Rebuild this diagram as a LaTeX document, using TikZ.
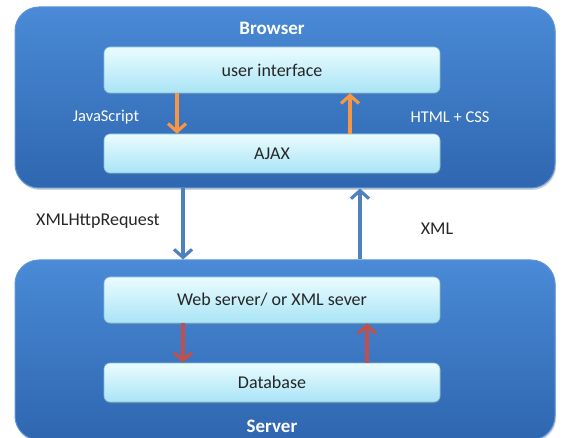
\documentclass[tikz,border=0pt]{standalone}
\usepackage{fontspec}
\setmainfont{Carlito}
\usetikzlibrary{arrows.meta,shadows}
\definecolor{outerTop}{HTML}{4A8AD6}
\definecolor{outerBot}{HTML}{2F66B0}
\definecolor{outerEdge}{HTML}{5B95DA}
\definecolor{innerTop}{HTML}{EAFCFF}
\definecolor{innerBot}{HTML}{A9E4F6}
\definecolor{innerEdge}{HTML}{7FBFE0}
\definecolor{jsOrange}{HTML}{F79646}
\definecolor{dbRed}{HTML}{C0504D}
\definecolor{netBlue}{HTML}{4F81BD}
\tikzset{
  x=1pt, y=-1pt,
  tier/.style={draw=outerEdge, line width=1pt, rounded corners=24pt,
    top color=outerTop, bottom color=outerBot,
    drop shadow={shadow xshift=1pt, shadow yshift=-2pt, opacity=0.35}},
  layer/.style={draw=innerEdge, line width=0.6pt, rounded corners=6pt,
    top color=innerTop, bottom color=innerBot,
    drop shadow={shadow xshift=0.5pt, shadow yshift=-1.5pt, opacity=0.4}},
  layertext/.style={font=\fontsize{18}{20}\selectfont, text=black!85},
  tiertitle/.style={font=\bfseries\fontsize{19}{21}\selectfont, text=white},
  sidelabel/.style={font=\fontsize{16.5}{18}\selectfont, text=white},
  netlabel/.style={font=\fontsize{18}{20}\selectfont, text=black!85},
  flow/.style={line width=3.2pt, -{Straight Barb[length=8pt, width=18pt, line width=3.2pt]}},
}
\begin{document}
\begin{tikzpicture}
\useasboundingbox (0,0) rectangle (562,438);

% Tiers
\node[tier, minimum width=540pt, minimum height=181pt] (browser) at (285,97.5) {};
\node[tier, minimum width=540pt, minimum height=180pt] (server) at (285,350) {};

% Layers
\node[layer, minimum width=336pt, minimum height=46pt] (ui) at (272,70) {};
\node[layertext] at (ui.center) {user interface};
\node[layer, minimum width=336pt, minimum height=39pt] (ajax) at (272,153.5) {};
\node[layertext] at (ajax.center) {AJAX};
\node[layer, minimum width=336pt, minimum height=46pt] (web) at (272,300) {};
\node[layertext] at (web.center) {Web server/ or XML sever};
\node[layer, minimum width=336pt, minimum height=39pt] (db) at (272,382.5) {};
\node[layertext] at (db.center) {Database};

% Titles and labels
\node[tiertitle] (btitle) at (272,28) {Browser};
\node[tiertitle] (stitle) at (272,426) {Server};
\node[sidelabel] (js) at (106,117) {JavaScript};
\node[sidelabel] (htmlcss) at (450,117) {HTML + CSS};
\node[netlabel] (xhr) at (98,221) {XMLHttpRequest};
\node[netlabel] (xml) at (437,229) {XML};

% Arrows inside the browser
\draw[flow, jsOrange] (ui.south -| 177,0) -- (ajax.north -| 177,0);
\draw[flow, jsOrange] (ajax.north -| 350,0) -- (ui.south -| 350,0);

% Arrows between browser and server
\draw[flow, netBlue] (browser.south -| 183,0) -- (server.north -| 183,0);
\draw[flow, netBlue] (server.north -| 360,0) -- (browser.south -| 360,0);

% Arrows inside the server
\draw[flow, dbRed] (web.south -| 183,0) -- (db.north -| 183,0);
\draw[flow, dbRed] (db.north -| 367,0) -- (web.south -| 367,0);
\end{tikzpicture}
\end{document}
